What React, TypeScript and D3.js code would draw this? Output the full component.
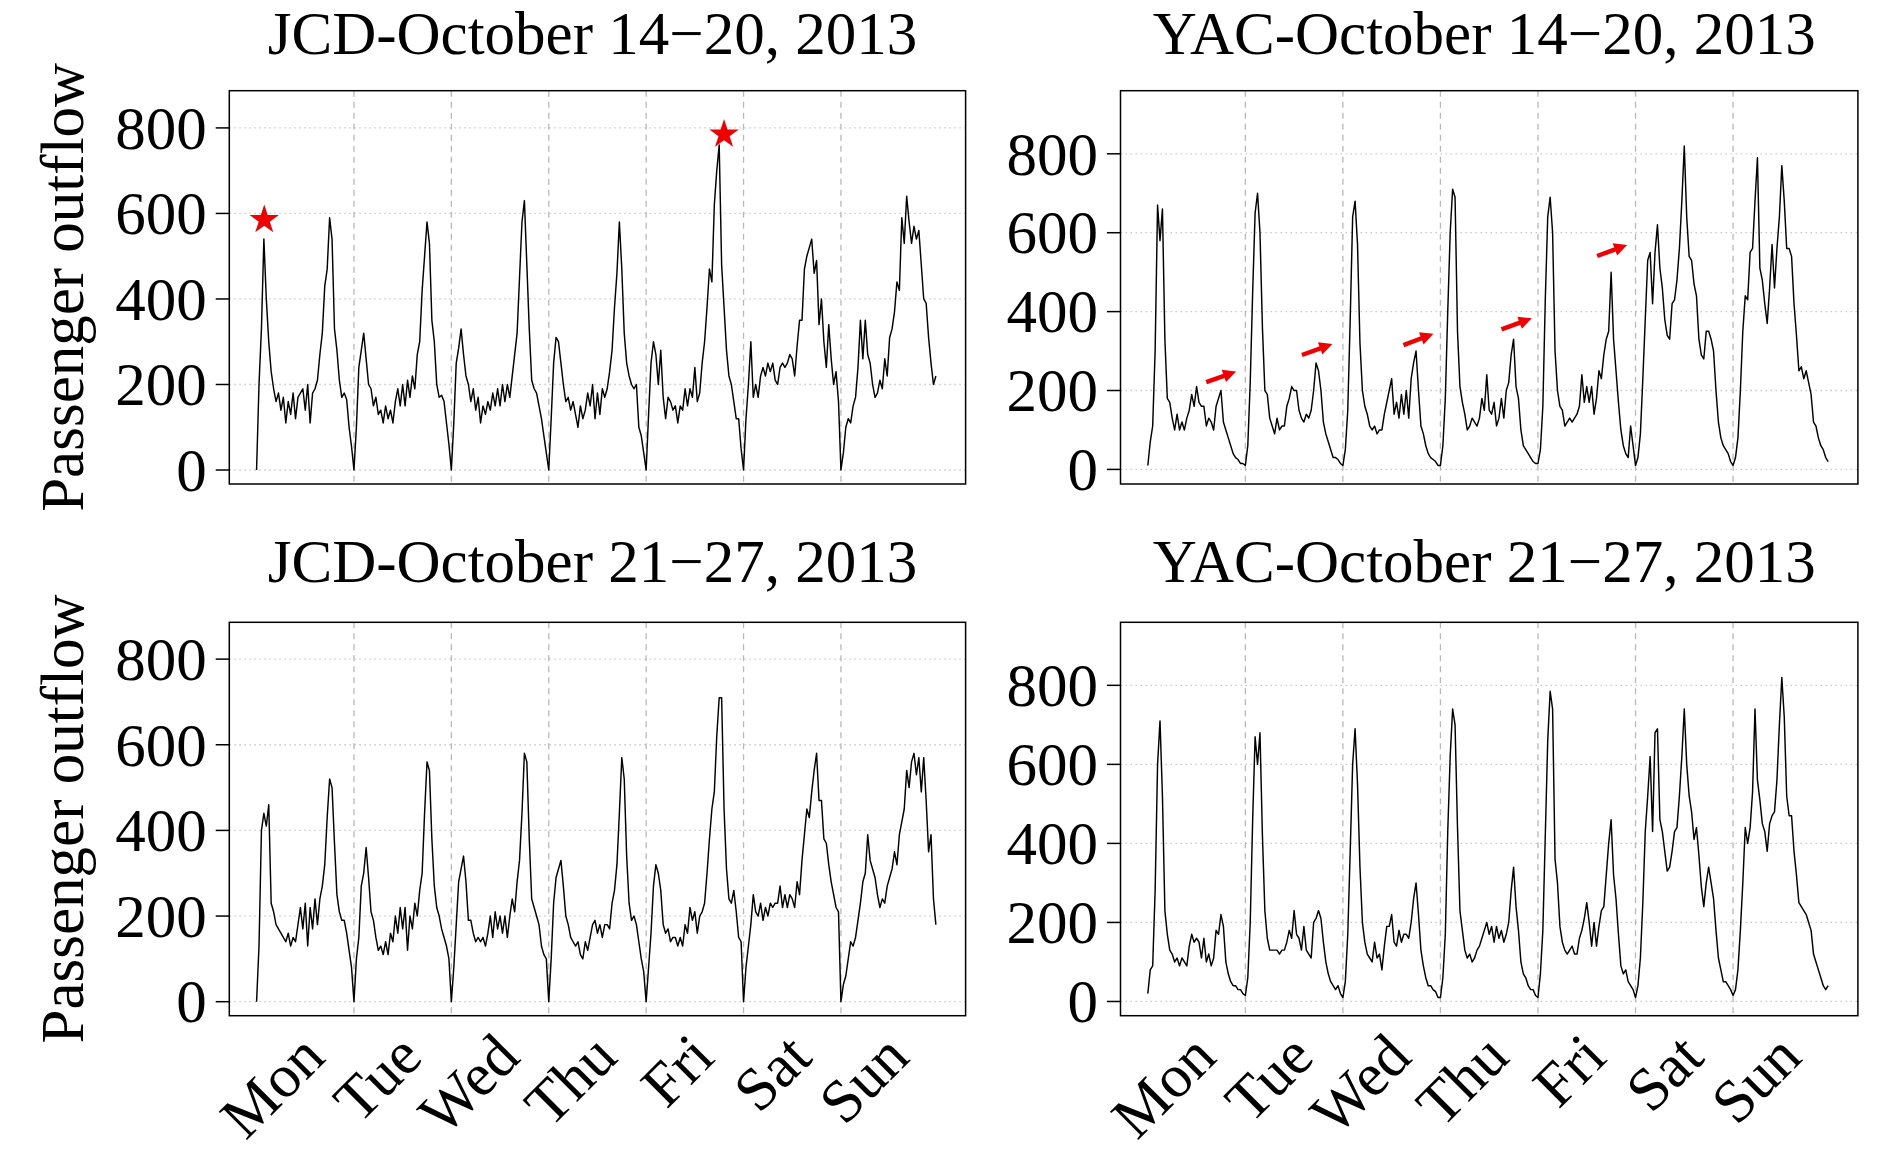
import React from "react";
import * as d3 from "d3";

// samples per day (service day split in 40 steps)
const PER_DAY = 40;
const dayNames = ["Mon", "Tue", "Wed", "Thu", "Fri", "Sat", "Sun"];
const yTickValues = [0, 200, 400, 600, 800];
const dayBoundaries = [1, 2, 3, 4, 5, 6];

// JCD, October 14-20, 2013 (one line per day)
const jcdOct14 = [
  0, 200, 330, 540, 400, 300, 230, 190, 160, 180, 140, 170, 110, 160, 130, 180, 120, 170, 180, 190, 140, 200, 110, 180, 190, 210, 270, 320, 430, 470, 590, 540, 330, 280, 210, 170, 180, 165, 100, 55,
  0, 100, 240, 280, 320, 260, 200, 190, 150, 170, 130, 140, 110, 150, 120, 140, 110, 160, 190, 150, 200, 150, 210, 170, 220, 190, 270, 300, 420, 500, 580, 530, 350, 300, 200, 170, 175, 160, 110, 60,
  0, 110, 250, 285, 330, 270, 220, 200, 160, 190, 140, 170, 110, 150, 130, 160, 140, 180, 150, 190, 150, 200, 160, 200, 170, 220, 270, 320, 450, 580, 630, 480, 330, 210, 190, 180, 150, 120, 80, 40,
  0, 120, 250, 310, 300, 250, 200, 160, 170, 140, 160, 130, 100, 150, 120, 140, 180, 150, 200, 120, 180, 130, 190, 170, 190, 230, 280, 380, 460, 580, 470, 320, 250, 220, 200, 190, 200, 100, 80, 40,
  0, 130, 250, 300, 270, 200, 280, 170, 120, 170, 160, 140, 150, 110, 150, 140, 190, 150, 190, 170, 240, 160, 180, 250, 300, 380, 470, 440, 620, 700, 760, 480, 380, 280, 220, 200, 160, 120, 120, 50,
  0, 120, 200, 300, 170, 200, 170, 220, 240, 220, 250, 230, 250, 210, 200, 240, 250, 240, 250, 270, 260, 220, 290, 350, 350, 470, 500, 520, 540, 460, 490, 340, 400, 300, 240, 340, 260, 200, 230, 160,
  0, 40, 100, 120, 110, 150, 170, 240, 350, 260, 350, 270, 250, 200, 170, 180, 210, 190, 260, 220, 310, 330, 370, 440, 420, 590, 530, 640, 580, 530, 570, 540, 560, 480, 400, 390, 310, 250, 200, 220,
];

// YAC, October 14-20, 2013
const yacOct14 = [
  10, 70, 110, 300, 670, 580, 660, 330, 180, 170, 130, 100, 140, 100, 120, 100, 130, 150, 190, 160, 210, 170, 160, 160, 110, 130, 120, 100, 160, 180, 200, 120, 100, 80, 60, 40, 30, 25, 15, 15,
  10, 60, 220, 450, 650, 700, 600, 360, 200, 190, 130, 110, 90, 130, 100, 110, 110, 160, 180, 210, 200, 200, 150, 130, 120, 140, 130, 150, 200, 270, 250, 200, 120, 90, 70, 50, 30, 30, 25, 15,
  10, 50, 150, 380, 640, 680, 570, 320, 200, 160, 140, 110, 100, 110, 90, 100, 100, 140, 170, 200, 230, 140, 170, 130, 190, 140, 200, 130, 230, 270, 300, 200, 110, 90, 60, 40, 30, 25, 20, 10,
  10, 60, 180, 400, 600, 710, 690, 350, 210, 170, 140, 100, 110, 130, 120, 110, 130, 180, 150, 240, 150, 140, 170, 110, 130, 180, 130, 200, 220, 290, 330, 210, 180, 100, 60, 50, 40, 30, 20, 15,
  15, 50, 160, 430, 640, 690, 600, 300, 200, 160, 150, 110, 120, 130, 120, 130, 140, 160, 240, 170, 210, 170, 210, 140, 180, 250, 230, 290, 330, 350, 500, 330, 250, 170, 100, 60, 40, 30, 110, 60,
  10, 30, 90, 230, 380, 530, 550, 420, 550, 620, 510, 460, 380, 340, 330, 420, 430, 480, 560, 680, 820, 640, 540, 530, 470, 440, 330, 290, 280, 350, 350, 330, 300, 200, 120, 80, 60, 50, 40, 20,
  10, 30, 80, 200, 350, 440, 430, 550, 560, 680, 790, 510, 480, 420, 370, 460, 570, 460, 560, 640, 770, 680, 560, 560, 540, 420, 340, 250, 260, 230, 250, 220, 190, 120, 110, 80, 60, 50, 30, 20,
];

// JCD, October 21-27, 2013
const jcdOct21 = [
  0, 130, 400, 440, 410, 460, 230, 210, 180, 170, 160, 150, 140, 160, 130, 150, 140, 180, 220, 170, 230, 130, 220, 170, 240, 180, 240, 270, 320, 430, 520, 500, 370, 250, 210, 190, 190, 160, 120, 80,
  0, 100, 150, 270, 300, 360, 290, 210, 190, 150, 120, 130, 110, 140, 110, 160, 140, 200, 160, 220, 170, 220, 120, 200, 170, 230, 200, 260, 300, 440, 560, 540, 380, 270, 220, 200, 170, 150, 130, 100,
  0, 80, 180, 280, 310, 340, 280, 190, 190, 160, 140, 150, 140, 150, 130, 160, 200, 150, 210, 170, 200, 160, 200, 150, 200, 240, 210, 280, 330, 440, 580, 560, 380, 240, 220, 200, 180, 130, 110, 100,
  0, 100, 230, 290, 310, 330, 270, 200, 180, 150, 140, 130, 140, 110, 100, 140, 120, 150, 180, 190, 160, 180, 150, 180, 180, 170, 230, 260, 320, 440, 570, 520, 340, 230, 190, 200, 180, 140, 100, 70,
  0, 80, 160, 270, 320, 300, 260, 180, 160, 170, 140, 150, 150, 130, 150, 130, 180, 160, 220, 190, 210, 160, 200, 210, 230, 300, 380, 450, 490, 620, 710, 710, 450, 310, 240, 230, 260, 210, 150, 140,
  0, 80, 130, 180, 250, 210, 200, 230, 190, 220, 200, 230, 220, 230, 230, 270, 220, 250, 220, 250, 240, 220, 280, 250, 330, 390, 450, 430, 490, 540, 580, 470, 470, 380, 370, 320, 280, 250, 220, 210,
  0, 40, 60, 100, 140, 130, 150, 190, 230, 280, 300, 390, 330, 310, 290, 250, 220, 240, 230, 270, 290, 310, 350, 320, 390, 420, 450, 540, 500, 560, 580, 530, 570, 490, 570, 470, 350, 390, 240, 180,
];

// YAC, October 21-27, 2013
const yacOct21 = [
  20, 80, 90, 280, 600, 710, 520, 230, 170, 130, 120, 100, 110, 90, 110, 100, 90, 140, 170, 150, 160, 150, 110, 160, 100, 120, 90, 110, 180, 170, 220, 190, 100, 70, 50, 40, 40, 30, 30, 20,
  15, 60, 200, 460, 670, 600, 680, 420, 230, 160, 130, 130, 130, 130, 120, 130, 130, 150, 180, 160, 230, 170, 160, 130, 190, 130, 120, 110, 200, 210, 230, 210, 150, 100, 70, 50, 40, 30, 40, 20,
  10, 50, 170, 380, 600, 690, 550, 340, 200, 150, 120, 110, 100, 150, 110, 120, 80, 140, 190, 190, 220, 150, 140, 180, 150, 170, 170, 160, 200, 260, 300, 220, 130, 90, 60, 40, 40, 30, 25, 10,
  10, 60, 170, 430, 620, 740, 700, 440, 230, 180, 130, 110, 120, 100, 110, 130, 140, 160, 180, 200, 170, 190, 150, 190, 160, 180, 150, 170, 200, 280, 340, 240, 180, 100, 70, 60, 40, 30, 30, 15,
  10, 70, 180, 420, 660, 785, 740, 360, 300, 190, 150, 130, 120, 130, 140, 120, 120, 160, 180, 210, 250, 200, 140, 200, 140, 190, 230, 240, 320, 400, 460, 320, 260, 170, 90, 70, 80, 50, 40, 30,
  10, 40, 110, 250, 430, 520, 620, 430, 680, 690, 460, 430, 380, 330, 340, 380, 430, 440, 520, 620, 740, 600, 520, 480, 410, 440, 370, 290, 240, 300, 340, 300, 260, 180, 110, 80, 50, 50, 40, 30,
  15, 30, 80, 180, 300, 440, 400, 440, 530, 740, 560, 510, 450, 430, 380, 450, 470, 480, 560, 700, 820, 720, 520, 470, 470, 380, 320, 250, 240, 230, 220, 200, 180, 120, 100, 80, 60, 40, 30, 40,
];

// red stars on the JCD first week (day, value)
const jcdStars = [
  { day: 0.079, value: 585 },
  { day: 4.8, value: 785 },
];

// red arrows on the YAC first week (tail -> tip, in day / value units)
const yacArrows = [
  { d0: 0.599, v0: 221, d1: 0.905, v1: 248 },
  { d0: 1.58, v0: 290, d1: 1.892, v1: 318 },
  { d0: 2.621, v0: 315, d1: 2.928, v1: 344 },
  { d0: 3.626, v0: 355, d1: 3.937, v1: 383 },
  { d0: 4.606, v0: 541, d1: 4.914, v1: 569 },
];

const FONT = '"Liberation Serif", "Times New Roman", Times, serif';

type PanelCfg = {
  title: string;
  series: number[];
  left: number;
  top: number;
  width: number;
  height: number;
  yDomain: [number, number];
  titleY: number;
  yLabel: boolean;
  xLabels: boolean;
  stars?: { day: number; value: number }[];
  arrows?: { d0: number; v0: number; d1: number; v1: number }[];
};

const panels: PanelCfg[] = [
  { title: "JCD-October 14\u221220, 2013", series: jcdOct14, left: 229.3, top: 90.7, width: 736.3, height: 393.3, yDomain: [-32.7, 887], titleY: 54, yLabel: true, xLabels: false, stars: jcdStars },
  { title: "YAC-October 14\u221220, 2013", series: yacOct14, left: 1120.5, top: 90.7, width: 737.4, height: 393.3, yDomain: [-37, 960], titleY: 54, yLabel: false, xLabels: false, arrows: yacArrows },
  { title: "JCD-October 21\u221227, 2013", series: jcdOct21, left: 229.3, top: 622.3, width: 736.3, height: 393.4, yDomain: [-32.7, 886], titleY: 582, yLabel: true, xLabels: true },
  { title: "YAC-October 21\u221227, 2013", series: yacOct21, left: 1120.5, top: 622.3, width: 737.4, height: 393.4, yDomain: [-36, 959.5], titleY: 582, yLabel: false, xLabels: true },
];

function Arrow({ x0, y0, x1, y1 }: { x0: number; y0: number; x1: number; y1: number }) {
  const a = Math.atan2(y1 - y0, x1 - x0);
  const head = 13;
  const half = 6.5;
  const bx = x1 - head * Math.cos(a);
  const by = y1 - head * Math.sin(a);
  const px = -Math.sin(a) * half;
  const py = Math.cos(a) * half;
  return (
    <g>
      <line x1={x0} y1={y0} x2={bx + Math.cos(a)} y2={by + Math.sin(a)} stroke="#ee0000" strokeWidth={4.5} />
      <polygon points={`${x1},${y1} ${bx + px},${by + py} ${bx - px},${by - py}`} fill="#ee0000" />
    </g>
  );
}

function Panel({ cfg }: { cfg: PanelCfg }) {
  const { left, top, width, height } = cfg;
  const x = d3.scaleLinear().domain([-0.28, 7.28]).range([left, left + width]);
  const y = d3.scaleLinear().domain(cfg.yDomain).range([top + height, top]);
  const line = d3
    .line<number>()
    .x((_, i) => x(i / PER_DAY))
    .y((d) => y(d));
  const star = d3.symbol(d3.symbolStar, 265)();
  const cx = left + width / 2 - 5;

  return (
    <g>
      {yTickValues.map((t) => (
        <line key={"h" + t} x1={left} x2={left + width} y1={y(t)} y2={y(t)} stroke="#c9c9c9" strokeWidth={1.3} strokeDasharray="1.5 3.5" />
      ))}
      {dayBoundaries.map((d) => (
        <line key={"v" + d} x1={x(d)} x2={x(d)} y1={top} y2={top + height} stroke="#b8b8b8" strokeWidth={1.3} strokeDasharray="6 5" />
      ))}
      <path d={line(cfg.series) || ""} fill="none" stroke="#000" strokeWidth={1.45} strokeLinejoin="round" />
      {cfg.stars?.map((s, i) => (
        <path key={"s" + i} d={star || ""} transform={`translate(${x(s.day)},${y(s.value)})`} fill="#ee0000" />
      ))}
      {cfg.arrows?.map((a, i) => (
        <Arrow key={"a" + i} x0={x(a.d0)} y0={y(a.v0)} x1={x(a.d1)} y1={y(a.v1)} />
      ))}
      <rect x={left} y={top} width={width} height={height} fill="none" stroke="#000" strokeWidth={1.5} />
      {yTickValues.map((t) => (
        <g key={"t" + t}>
          <line x1={left - 13.6} x2={left} y1={y(t)} y2={y(t)} stroke="#000" strokeWidth={1.5} />
          <text x={left - 22.6} y={y(t)} dy="0.34em" textAnchor="end" fontSize={61} fontFamily={FONT}>
            {t}
          </text>
        </g>
      ))}
      <text x={cx} y={cfg.titleY} textAnchor="middle" fontSize={61} fontFamily={FONT}>
        {cfg.title}
      </text>
      {cfg.yLabel && (
        <text transform={`translate(83,${top + height / 2}) rotate(-90)`} textAnchor="middle" fontSize={61} fontFamily={FONT}>
          Passenger outflow
        </text>
      )}
      {cfg.xLabels &&
        dayNames.map((name, i) => (
          <text
            key={name}
            transform={`translate(${x(i + 0.5) + 22},${top + height + 44}) rotate(-45)`}
            textAnchor="end"
            fontSize={61}
            fontFamily={FONT}
          >
            {name}
          </text>
        ))}
    </g>
  );
}

export default function App() {
  return (
    <svg
      width={1890}
      height={1154}
      viewBox="0 0 1890 1154"
      style={{ position: "absolute", left: 0, top: 0, background: "#fff" }}
    >
      <rect width={1890} height={1154} fill="#fff" />
      {panels.map((p) => (
        <Panel key={p.title} cfg={p} />
      ))}
    </svg>
  );
}
